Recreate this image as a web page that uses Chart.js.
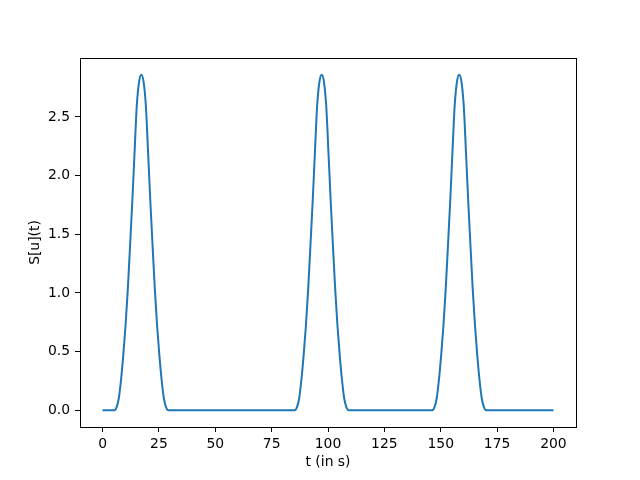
<!DOCTYPE html>
<html>
<head>
<meta charset="utf-8">
<script src="https://cdn.jsdelivr.net/npm/chart.js@4/dist/chart.umd.min.js"></script>
<style>
  html, body { margin: 0; padding: 0; background: #fff; }
  canvas { display: block; }
</style>
</head>
<body>
<canvas id="chart" width="640" height="480"></canvas>
<script>
// time samples (s) and signal values
const tValues = [
  0,
  5.2, 6.2, 7.2, 8.2, 9.2, 10.2, 11.2, 12.2, 13.2, 14.2, 15.2, 16.2, 17.2,
  18.2, 19.2, 20.2, 21.2, 22.2, 23.2, 24.2, 25.2, 26.2, 27.2, 28.2, 29.2,
  85.2, 86.2, 87.2, 88.2, 89.2, 90.2, 91.2, 92.2, 93.2, 94.2, 95.2, 96.2, 97.2,
  98.2, 99.2, 100.2, 101.2, 102.2, 103.2, 104.2, 105.2, 106.2, 107.2, 108.2, 109.2,
  146.2, 147.2, 148.2, 149.2, 150.2, 151.2, 152.2, 153.2, 154.2, 155.2, 156.2, 157.2, 158.2,
  159.2, 160.2, 161.2, 162.2, 163.2, 164.2, 165.2, 166.2, 167.2, 168.2, 169.2, 170.2,
  200
];
const sValues = [
  0,
  0, 0.025, 0.10, 0.26, 0.47, 0.72, 1.03, 1.40, 1.78, 2.20, 2.60, 2.80, 2.86,
  2.80, 2.60, 2.20, 1.78, 1.40, 1.03, 0.72, 0.47, 0.26, 0.10, 0.025, 0,
  0, 0.025, 0.10, 0.26, 0.47, 0.72, 1.03, 1.40, 1.78, 2.20, 2.60, 2.80, 2.86,
  2.80, 2.60, 2.20, 1.78, 1.40, 1.03, 0.72, 0.47, 0.26, 0.10, 0.025, 0,
  0, 0.025, 0.10, 0.26, 0.47, 0.72, 1.03, 1.40, 1.78, 2.20, 2.60, 2.80, 2.86,
  2.80, 2.60, 2.20, 1.78, 1.40, 1.03, 0.72, 0.47, 0.26, 0.10, 0.025, 0,
  0
];
const xTicks = [0, 25, 50, 75, 100, 125, 150, 175, 200];
const yTicks = [0, 0.5, 1.0, 1.5, 2.0, 2.5];

const tickFont = { family: 'DejaVu Sans', size: 13.9 };

// box around the whole plot area, like matplotlib's spines
const frame = {
  id: 'frame',
  afterDraw(chart) {
    const a = chart.chartArea;
    const ctx = chart.ctx;
    ctx.save();
    ctx.strokeStyle = '#000';
    ctx.lineWidth = 1;
    ctx.strokeRect(Math.round(a.left) + 0.5, Math.round(a.top) + 0.5,
      Math.round(a.right - a.left), Math.round(a.bottom - a.top));
    ctx.restore();
  }
};

new Chart(document.getElementById('chart').getContext('2d'), {
  type: 'line',
  data: {
    datasets: [{
      data: tValues.map((t, i) => ({ x: t, y: sValues[i] })),
      borderColor: '#1f77b4',
      borderWidth: 2,
      pointRadius: 0,
      fill: false,
      cubicInterpolationMode: 'monotone'
    }]
  },
  options: {
    responsive: false,
    animation: false,
    layout: { padding: { left: 0, top: 58, right: 64, bottom: 0 } },
    plugins: { legend: { display: false }, tooltip: { enabled: false } },
    scales: {
      x: {
        type: 'linear',
        min: -10,
        max: 210,
        afterBuildTicks: s => { s.ticks = xTicks.map(v => ({ value: v })); },
        afterFit: s => { s.height = 53; },
        grid: { drawOnChartArea: false, tickLength: 5, tickColor: '#000', tickWidth: 1 },
        border: { color: '#000', width: 1 },
        ticks: { color: '#000', font: tickFont, padding: 4, maxRotation: 0 },
        title: { display: true, text: 't (in s)', color: '#000', font: tickFont, padding: { top: 0, bottom: 9 } }
      },
      y: {
        type: 'linear',
        min: -0.143,
        max: 3.003,
        afterBuildTicks: s => { s.ticks = yTicks.map(v => ({ value: v })); },
        afterFit: s => { s.width = 80; },
        grid: { drawOnChartArea: false, tickLength: 5, tickColor: '#000', tickWidth: 1 },
        border: { color: '#000', width: 1 },
        ticks: { color: '#000', font: tickFont, padding: 5, callback: v => v.toFixed(1) },
        title: { display: true, text: 'S[u](t)', color: '#000', font: tickFont, padding: { top: 27, bottom: 0 } }
      }
    }
  },
  plugins: [frame]
});
</script>
</body>
</html>
